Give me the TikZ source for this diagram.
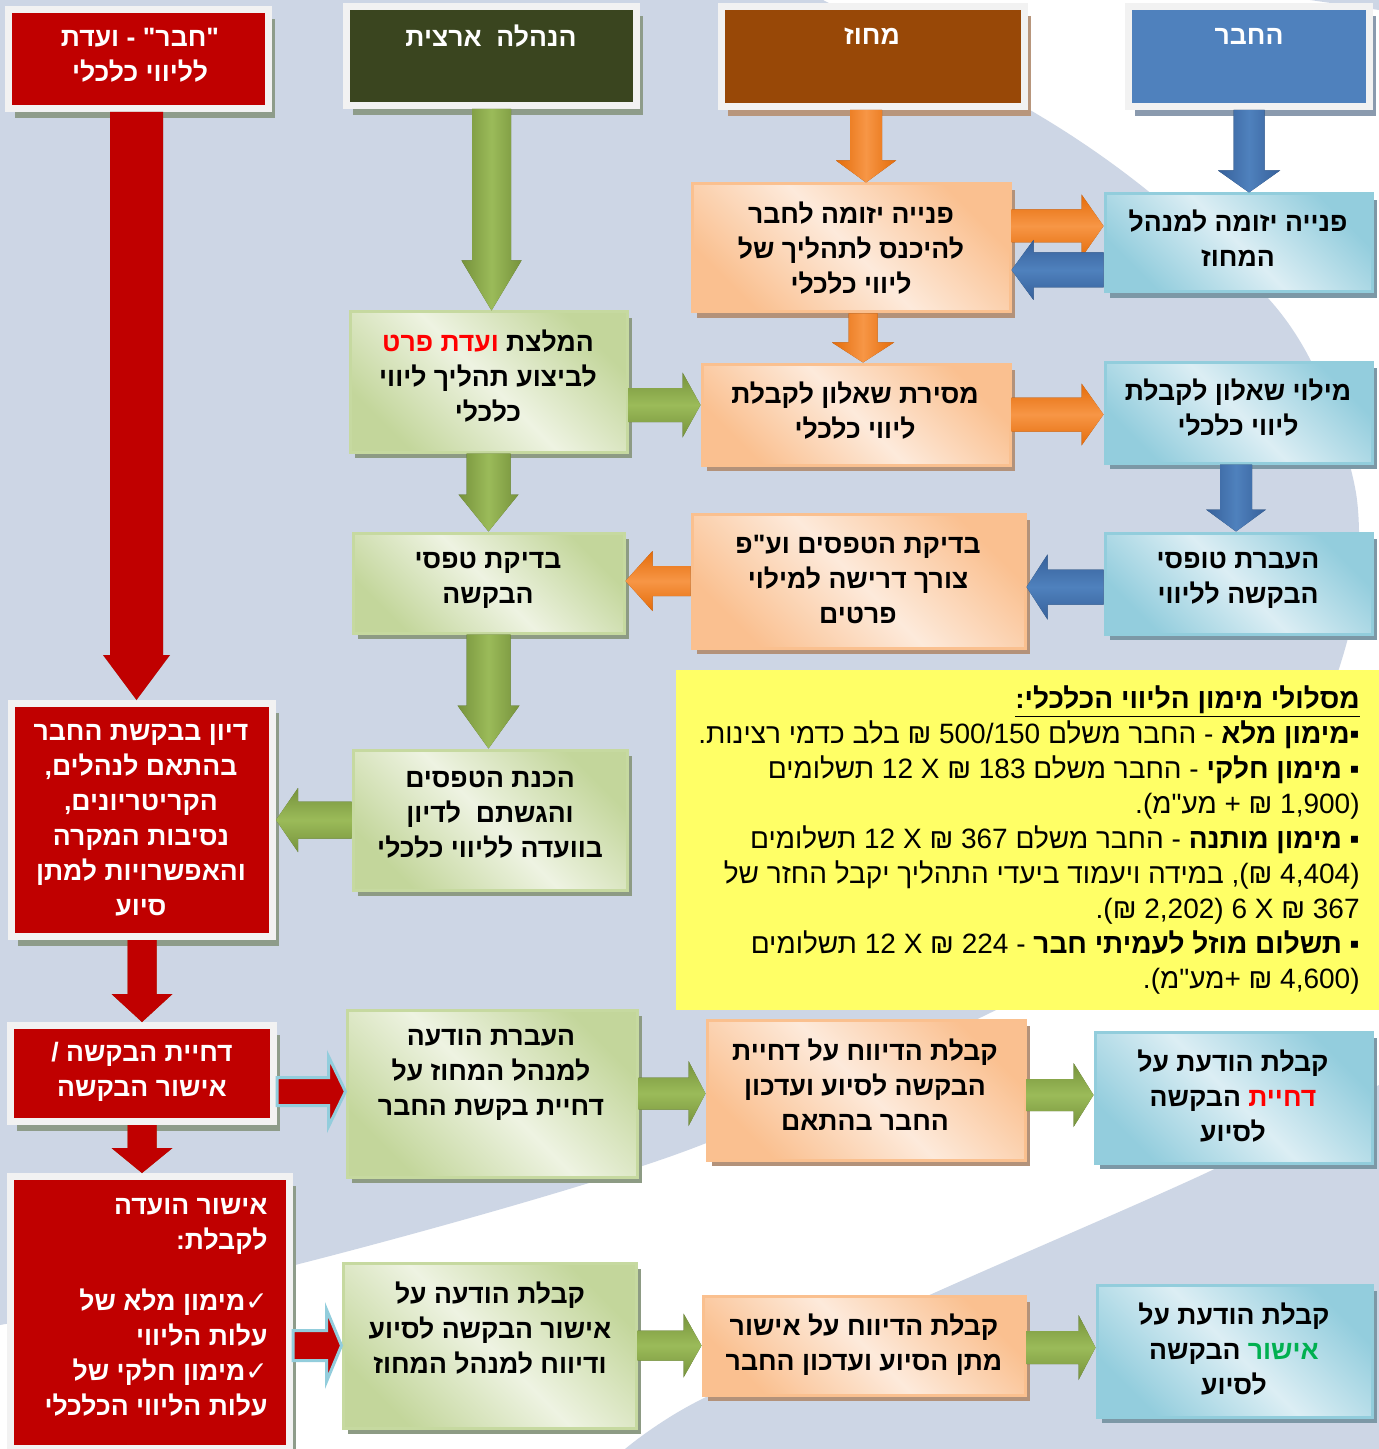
\documentclass[tikz,border=0pt]{standalone}
\usepackage{fontspec}
\usetikzlibrary{calc,shadows}
\TeXXeTstate=1
\newfontfamily\heb[Script=Hebrew]{Liberation Sans}
\newfontfamily\sym{DejaVu Sans}
\newcommand\R[1]{\beginR#1\endR}
\definecolor{bgc}{HTML}{CDD6E5}
\definecolor{framec}{HTML}{F2F2F2}
\definecolor{redc}{HTML}{C00000}
\definecolor{hgc}{HTML}{3A451F}
\definecolor{hoc}{HTML}{984807}
\definecolor{hbc}{HTML}{4F81BD}
\definecolor{shg}{HTML}{8E9C8A}
\definecolor{sho}{HTML}{B8967C}
\definecolor{shb}{HTML}{8A9AAE}
\definecolor{gdk}{HTML}{C3D69B}
\definecolor{glt}{HTML}{EEF3E2}
\definecolor{gbd}{HTML}{C6D9A0}
\definecolor{gsh}{HTML}{8D9B84}
\definecolor{odk}{HTML}{FAC090}
\definecolor{olt}{HTML}{FDEADB}
\definecolor{obd}{HTML}{FAC08F}
\definecolor{osh}{HTML}{B3927A}
\definecolor{bdk}{HTML}{93CDDD}
\definecolor{blt}{HTML}{DCEEF4}
\definecolor{bbd}{HTML}{92CDDC}
\definecolor{bsh}{HTML}{7C98A6}
\definecolor{yel}{HTML}{FFFF66}
\definecolor{agd}{HTML}{76923C}
\definecolor{agl}{HTML}{9BBB59}
\definecolor{ags}{HTML}{4F6228}
\definecolor{aod}{HTML}{E46C0A}
\definecolor{aol}{HTML}{F79646}
\definecolor{aos}{HTML}{984807}
\definecolor{abd}{HTML}{36609A}
\definecolor{abl}{HTML}{4F81BD}
\definecolor{abs}{HTML}{244061}
\definecolor{ars}{HTML}{9A4A10}
\definecolor{redt}{HTML}{FF0000}
\definecolor{grnt}{HTML}{00B050}
% vertical block arrow: #1 style, #2 shadow style, #3 from, #4 to, #5 shaft half, #6 head half, #7 head length (px)
\newcommand\arrV[7]{%
 \path[#2,xshift=2pt,yshift=-2pt] let \p1=#3,\p2=#4,\n1={(\y2-\y1)/abs(\y2-\y1)} in
  ({\x1-#5*0.5pt},\y1) -- ({\x1-#5*0.5pt},{\y2-\n1*#7*0.5pt}) -- ({\x1-#6*0.5pt},{\y2-\n1*#7*0.5pt}) -- (\x1,\y2)
  -- ({\x1+#6*0.5pt},{\y2-\n1*#7*0.5pt}) -- ({\x1+#5*0.5pt},{\y2-\n1*#7*0.5pt}) -- ({\x1+#5*0.5pt},\y1) -- cycle;
 \path[#1] let \p1=#3,\p2=#4,\n1={(\y2-\y1)/abs(\y2-\y1)} in
  ({\x1-#5*0.5pt},\y1) -- ({\x1-#5*0.5pt},{\y2-\n1*#7*0.5pt}) -- ({\x1-#6*0.5pt},{\y2-\n1*#7*0.5pt}) -- (\x1,\y2)
  -- ({\x1+#6*0.5pt},{\y2-\n1*#7*0.5pt}) -- ({\x1+#5*0.5pt},{\y2-\n1*#7*0.5pt}) -- ({\x1+#5*0.5pt},\y1) -- cycle;
}
\newcommand\arrH[7]{%
 \path[#2,xshift=2pt,yshift=-2pt] let \p1=#3,\p2=#4,\n1={(\x2-\x1)/abs(\x2-\x1)} in
  (\x1,{\y1-#5*0.5pt}) -- ({\x2-\n1*#7*0.5pt},{\y1-#5*0.5pt}) -- ({\x2-\n1*#7*0.5pt},{\y1-#6*0.5pt}) -- (\x2,\y1)
  -- ({\x2-\n1*#7*0.5pt},{\y1+#6*0.5pt}) -- ({\x2-\n1*#7*0.5pt},{\y1+#5*0.5pt}) -- (\x1,{\y1+#5*0.5pt}) -- cycle;
 \path[#1] let \p1=#3,\p2=#4,\n1={(\x2-\x1)/abs(\x2-\x1)} in
  (\x1,{\y1-#5*0.5pt}) -- ({\x2-\n1*#7*0.5pt},{\y1-#5*0.5pt}) -- ({\x2-\n1*#7*0.5pt},{\y1-#6*0.5pt}) -- (\x2,\y1)
  -- ({\x2-\n1*#7*0.5pt},{\y1+#6*0.5pt}) -- ({\x2-\n1*#7*0.5pt},{\y1+#5*0.5pt}) -- (\x1,{\y1+#5*0.5pt}) -- cycle;
}
\begin{document}
\begin{tikzpicture}[x=0.5pt,y=-0.5pt,
 sz/.style 2 args={minimum width=#1*0.5pt, minimum height=#2*0.5pt},
 frm/.style={draw=framec, line width=3.5pt, inner sep=0pt, drop shadow={shadow xshift=3.25pt, shadow yshift=-4.75pt, fill=#1, opacity=1}},
 gbox/.style={top color=gdk, bottom color=gdk, middle color=glt, shading angle=-45, draw=gbd, line width=1.5pt, inner sep=0pt, drop shadow={shadow xshift=2.5pt, shadow yshift=-3pt, fill=gsh, opacity=1}},
 obox/.style={top color=odk, bottom color=odk, middle color=olt, shading angle=-45, draw=obd, line width=1.5pt, inner sep=0pt, drop shadow={shadow xshift=2.5pt, shadow yshift=-3pt, fill=osh, opacity=1}},
 bbox/.style={top color=bdk, bottom color=bdk, middle color=blt, shading angle=-45, draw=bbd, line width=1.5pt, inner sep=0pt, drop shadow={shadow xshift=2.5pt, shadow yshift=-3pt, fill=bsh, opacity=1}},
 t/.style={font=\heb\bfseries\fontsize{13.3}{17.5}\selectfont, align=center, inner sep=0pt},
 tw/.style={t, text=white},
 ytxt/.style={font=\heb\fontsize{14}{17.5}\selectfont, align=right, inner sep=0pt},
 gV/.style={left color=agd, right color=agd, middle color=agl},
 gH/.style={top color=agd, bottom color=agd, middle color=agl},
 oV/.style={left color=aod, right color=aod, middle color=aol},
 oH/.style={top color=aod, bottom color=aod, middle color=aol},
 bV/.style={left color=abd, right color=abd, middle color=abl},
 bH/.style={top color=abd, bottom color=abd, middle color=abl},
 gS/.style={fill=ags}, oS/.style={fill=aos}, bS/.style={fill=abs},
 rA/.style={fill=redc}, rAo/.style={fill=redc, draw=bbd, line width=1.5pt}
]
\useasboundingbox (0,0) rectangle (1379,1449);
% background
\fill[white] (0,0) rectangle (1379,1449);
\fill[bgc] (0,0) -- plot[smooth] coordinates {(823,0) (1030,110) (1143,187) (1267,297) (1320,380) (1357,500) (1350,630) (1290,780) (1160,920) (992,1012) (680,1153) (295,1265) (0,1325)} -- cycle;
\fill[bgc] (1379,1085) -- plot[smooth] coordinates {(1379,1085) (1206,1173) (934,1293) (700,1400) (625,1449)} -- (1379,1449) -- cycle;
\fill[bgc] (1310,0) -- (1379,0) -- (1379,10) -- cycle;
% headers
\node[frm=shg, fill=redc, sz={260}{99}] (hR) at (138.5,59) {};
\node[frm=shg, fill=hgc, sz={290}{99}] (hG) at (491.5,56) {};
\node[frm=sho, fill=hoc, sz={303}{100}] (hO) at (873,56.5) {};
\node[frm=shb, fill=hbc, sz={241}{100}] (hB) at (1249,56.5) {};
% red boxes
\node[frm=shg, fill=redc, sz={261}{233}] (r1) at (142,820) {};
\node[frm=shg, fill=redc, sz={263}{96}] (r2) at (142,1073.5) {};
\node[frm=shg, fill=redc, sz={279}{272}] (r3) at (150,1312.5) {};
% green
\node[gbox, sz={277}{140}] (g1) at (488.5,382) {};
\node[gbox, sz={271}{100}] (g2) at (488.5,583) {};
\node[gbox, sz={274}{140}] (g3) at (490,820) {};
\node[gbox, sz={290}{167}] (g4) at (492,1093.5) {};
\node[gbox, sz={293}{165}] (g5) at (489.5,1345.5) {};
% orange
\node[obox, sz={318}{128}] (o1) at (851,248) {};
\node[obox, sz={308}{101}] (o2) at (856,414.5) {};
\node[obox, sz={333}{134}] (o3) at (858.5,581) {};
\node[obox, sz={318}{140}] (o4) at (866,1090) {};
\node[obox, sz={322}{99}] (o5) at (864,1345.5) {};
% blue
\node[bbox, sz={267}{98}] (b1) at (1238.5,243) {};
\node[bbox, sz={267}{101}] (b2) at (1238.5,412.5) {};
\node[bbox, sz={267}{101}] (b3) at (1238.5,583.5) {};
\node[bbox, sz={277}{131}] (b4) at (1233.5,1097.5) {};
\node[bbox, sz={275}{132}] (b5) at (1234.5,1351) {};
% yellow
\node[fill=yel, inner sep=0pt, sz={703}{340}] (yl) at (1027.5,840) {};
% arrows
\arrV{gV}{gS}{(hG.south)}{(g1.north)}{19.5}{30}{50}
\arrV{gV}{gS}{(g1.south)}{(g2.north)}{22}{30}{37}
\arrV{gV}{gS}{(g2.south)}{(g3.north)}{22}{31}{43}
\arrV{oV}{oS}{([xshift=-3.5pt]hO.south)}{(o1.north)}{16}{30}{22}
\arrV{oV}{oS}{([xshift=6pt]o1.south)}{(o2.north)}{14.5}{31}{20}
\arrV{bV}{bS}{(hB.south)}{(b1.north)}{15.5}{31}{22}
\arrV{bV}{bS}{([xshift=-1.25pt]b2.south)}{(b3.north)}{16}{30}{22}
\arrV{rA}{fill=shg}{([xshift=-1pt]hR.south)}{(r1.north)}{26.5}{33.5}{45}
\arrV{rA}{fill=ars}{(r1.south)}{(r2.north)}{14.5}{30.5}{28}
\arrV{rA}{fill=ars}{(r2.south)}{(r3.north)}{14.5}{30.5}{25}
\arrH{gH}{gS}{([yshift=-11.5pt]g1.east)}{(o2.west)}{17}{32.5}{18}
\arrH{oH}{oS}{([yshift=11pt]o1.east)}{(b1.west)}{16.5}{31.5}{22}
\arrH{bH}{bS}{([yshift=-13.5pt]b1.west)}{(o1.east)}{17.5}{30}{22}
\arrH{oH}{oS}{(o2.east)}{(b2.west)}{17}{31}{22}
\arrH{oH}{oS}{(o3.west)}{(g2.east)}{15}{30}{27}
\arrH{bH}{bS}{([yshift=-1.75pt]b3.west)}{(o3.east)}{17.5}{32.5}{21}
\arrH{gH}{gS}{(g3.west)}{(r1.east)}{18.5}{32}{22}
\arrH{rAo}{}{([yshift=-9pt]r2.east)}{(g4.west)}{14}{35}{17}
\arrH{gH}{gS}{(g4.east)}{(o4.west)}{16}{32.5}{17}
\arrH{gH}{gS}{([yshift=-2.5pt]o4.east)}{(b4.west)}{16}{32}{20}
\arrH{rAo}{}{([yshift=-16.5pt]r3.east)}{(g5.west)}{15}{36}{15}
\arrH{gH}{gS}{(g5.east)}{(o5.west)}{15}{32}{18}
\arrH{gH}{gS}{([yshift=-1pt]o5.east)}{(b5.west)}{16.5}{32.5}{17}
% texts
\node[tw] (hRt) at (140,55) {\R{"חבר" - ועדת}\\\R{לליווי כלכלי}};
\node[tw] (hGt) at (491,36) {\R{הנהלה~~ארצית}};
\node[tw] (hOt) at (872,36) {\R{מחוז}};
\node[tw] (hBt) at (1249,36) {\R{החבר}};
\node[t] (o1t) at (851,248) {\R{פנייה יזומה לחבר}\\\R{להיכנס לתהליך של}\\\R{ליווי כלכלי}};
\node[t] (b1t) at (1238,238.5) {\R{פנייה יזומה למנהל}\\\R{המחוז}};
% in lines with two colours each single-colour part is its own R-text, parts set left to right
\node[t] (g1t) at (488,376) {\textcolor{redt}{\R{ועדת פרט}} \R{המלצת}\\\R{לביצוע תהליך ליווי}\\\R{כלכלי}};
\node[t] (o2t) at (855,410.5) {\R{מסירת שאלון לקבלת}\\\R{ליווי כלכלי}};
\node[t] (b2t) at (1238,407.5) {\R{מילוי שאלון לקבלת}\\\R{ליווי כלכלי}};
\node[t] (g2t) at (488,580.5) {\R{בדיקת טפסי}\\\R{הבקשה}};
\node[t] (o3t) at (858,579) {\R{בדיקת הטפסים וע"פ}\\\R{צורך דרישה למילוי}\\\R{פרטים}};
\node[t] (b3t) at (1238,580.5) {\R{העברת טופסי}\\\R{הבקשה לליווי}};
\node[tw] (r1t) at (141,820.5) {\R{דיון בבקשת החבר}\\\R{בהתאם לנהלים,}\\\R{הקריטריונים,}\\\R{נסיבות המקרה}\\\R{והאפשרויות למתן}\\\R{סיוע}};
\node[t] (g3t) at (490,815) {\R{הכנת הטפסים}\\\R{והגשתם~~לדיון}\\\R{בוועדה לליווי כלכלי}};
\node[tw] (r2t) at (142,1071.5) {\R{דחיית הבקשה /}\\\R{אישור הבקשה}};
\node[t] (g4t) at (491,1075) {\R{העברת הודעה}\\\R{למנהל המחוז על}\\\R{דחיית בקשת החבר}};
\node[t] (o4t) at (865,1085) {\R{קבלת הדיווח על דחיית}\\\R{הבקשה לסיוע ועדכון}\\\R{החבר בהתאם}};
\node[t] (b4t) at (1233,1096) {\R{קבלת הודעת על}\\\R{הבקשה} \textcolor{redt}{\R{דחיית}}\\\R{לסיוע}};
\node[tw, align=right, anchor=east] (r3t) at (268,1307.5) {\R{אישור הועדה}\\\R{לקבלת:}\\[13pt]\R{{\sym ✓}מימון מלא של}\\\R{עלות הליווי}\\\R{{\sym ✓}מימון חלקי של}\\\R{עלות הליווי הכלכלי}};
\node[t] (g5t) at (490,1328) {\R{קבלת הודעה על}\\\R{אישור הבקשה לסיוע}\\\R{ודיווח למנהל המחוז}};
\node[t] (o5t) at (864,1344.5) {\R{קבלת הדיווח על אישור}\\\R{מתן הסיוע ועדכון החבר}};
\node[t] (b5t) at (1234,1349) {\R{קבלת הודעת על}\\\R{הבקשה} \textcolor{grnt}{\R{אישור}}\\\R{לסיוע}};
\node[ytxt, anchor=east] (ylt) at (1360,840) {%
\underline{\R{\textbf{מסלולי מימון הליווי הכלכלי:}}}\\
\R{\textbf{▪מימון מלא} - החבר משלם 500/150 ₪ בלב כדמי רצינות.}\\
\R{\textbf{▪} \textbf{מימון חלקי} - החבר משלם 183 ₪ X 12 תשלומים}\\
\R{(1,900 ₪ + מע"מ).}\\
\R{\textbf{▪} \textbf{מימון מותנה} - החבר משלם 367 ₪ X 12 תשלומים}\\
\R{(4,404 ₪), במידה ויעמוד ביעדי התהליך יקבל החזר של}\\
\R{367 ₪ X 6 (2,202 ₪).}\\
\R{\textbf{▪} \textbf{תשלום מוזל לעמיתי חבר} - 224 ₪ X 12 תשלומים}\\
\R{(4,600 ₪ +מע"מ).}};
\end{tikzpicture}
\end{document}
